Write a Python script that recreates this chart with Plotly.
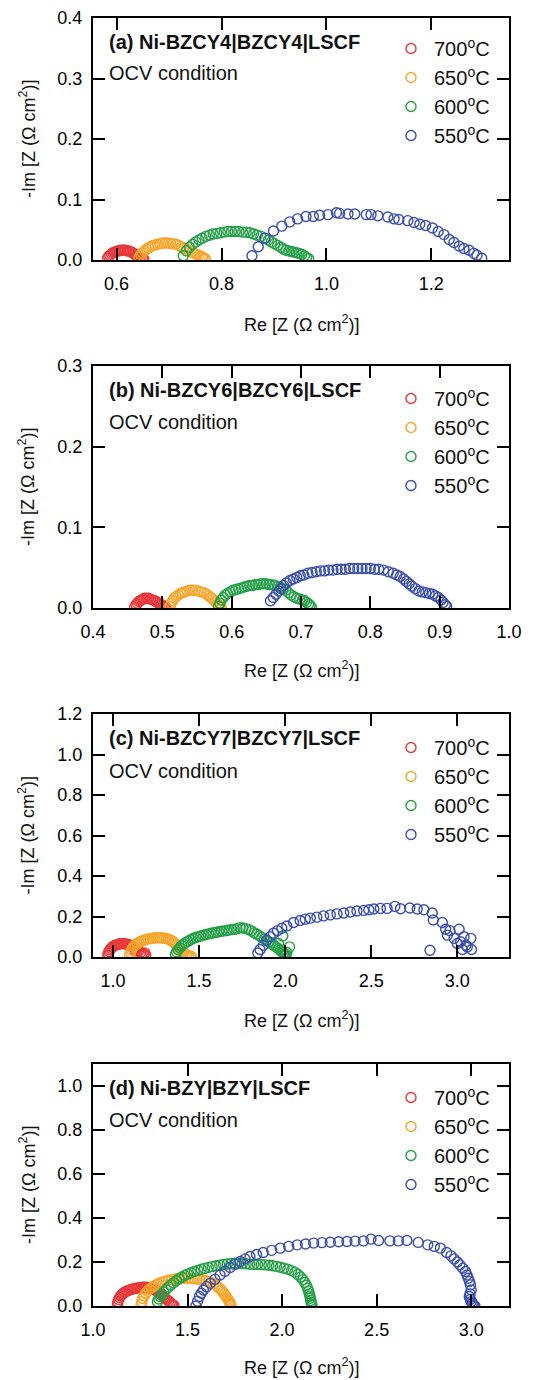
import plotly.graph_objects as go

# ---------------- data ----------------
temps = ["700", "650", "600", "550"]
colors = ["#e8383a", "#f8a52a", "#23a046", "#3a4fae"]
panel_titles = ["(a) Ni-BZCY4|BZCY4|LSCF", "(b) Ni-BZCY6|BZCY6|LSCF",
                "(c) Ni-BZCY7|BZCY7|LSCF", "(d) Ni-BZY|BZY|LSCF"]
cond_label = "OCV condition"

# panel (a)
a700_x = [0.583,0.585,0.587,0.590,0.593,0.596,0.599,0.602,0.605,0.608,
          0.611,0.614,0.617,0.620,0.623,0.626,0.629,0.632,0.635,0.638,
          0.641,0.645,0.649,0.652]
a700_y = [0.003,0.006,0.008,0.010,0.012,0.013,0.014,0.015,0.015,0.016,
          0.016,0.016,0.016,0.015,0.015,0.014,0.013,0.011,0.009,0.007,
          0.006,0.004,0.002,0.001]
a650_x = [0.643,0.646,0.649,0.653,0.657,0.661,0.665,0.669,0.673,0.678,
          0.683,0.688,0.693,0.698,0.703,0.708,0.713,0.718,0.723,0.728,
          0.733,0.738,0.743,0.748,0.753,0.757,0.761,0.764,0.767,0.769]
a650_y = [0.005,0.009,0.012,0.015,0.018,0.020,0.022,0.024,0.025,0.026,
          0.027,0.028,0.028,0.028,0.027,0.027,0.026,0.024,0.022,0.020,
          0.018,0.015,0.013,0.011,0.009,0.008,0.006,0.005,0.003,0.002]
a600_x = [0.727,0.733,0.739,0.745,0.751,0.757,0.763,0.770,0.777,0.784,
          0.791,0.798,0.805,0.812,0.819,0.826,0.833,0.840,0.847,0.854,
          0.861,0.868,0.875,0.882,0.889,0.895,0.901,0.907,0.913,0.918,
          0.923,0.928,0.933,0.938,0.943,0.948,0.953,0.958,0.962,0.966]
a600_y = [0.007,0.015,0.021,0.026,0.030,0.033,0.036,0.039,0.041,0.043,
          0.044,0.045,0.046,0.047,0.047,0.047,0.047,0.046,0.046,0.045,
          0.043,0.041,0.039,0.036,0.033,0.030,0.027,0.024,0.021,0.018,
          0.016,0.015,0.014,0.013,0.012,0.011,0.009,0.007,0.004,0.002]
a550_x = [0.858,0.870,0.883,0.899,0.915,0.930,0.945,0.961,0.975,0.987,
          1.003,1.019,1.025,1.041,1.054,1.076,1.085,1.098,1.117,1.129,
          1.138,1.155,1.167,1.178,1.189,1.202,1.213,1.224,1.234,1.243,
          1.253,1.262,1.272,1.281,1.287,1.296]
a550_y = [0.007,0.022,0.036,0.048,0.056,0.063,0.068,0.072,0.072,0.074,
          0.075,0.078,0.077,0.076,0.076,0.075,0.075,0.073,0.071,0.068,
          0.067,0.065,0.062,0.059,0.057,0.053,0.047,0.042,0.034,0.029,
          0.023,0.019,0.016,0.011,0.008,0.003]

# panel (b)
b700_x = [0.460,0.462,0.464,0.466,0.468,0.470,0.472,0.474,0.477,0.480,
          0.483,0.486,0.489,0.491,0.493,0.495,0.497,0.499,0.501,0.503,
          0.505]
b700_y = [0.001,0.004,0.006,0.008,0.009,0.010,0.011,0.012,0.012,0.012,
          0.011,0.010,0.009,0.008,0.007,0.006,0.005,0.004,0.003,0.002,
          0.001]
b650_x = [0.511,0.513,0.515,0.517,0.520,0.523,0.526,0.529,0.532,0.536,
          0.540,0.544,0.548,0.552,0.556,0.560,0.564,0.567,0.570,0.573,
          0.576,0.579,0.581,0.583,0.585]
b650_y = [0.002,0.006,0.009,0.012,0.014,0.016,0.018,0.019,0.020,0.021,
          0.022,0.022,0.022,0.021,0.020,0.019,0.017,0.015,0.013,0.011,
          0.008,0.006,0.004,0.003,0.001]
b600_x = [0.581,0.583,0.585,0.588,0.591,0.594,0.598,0.602,0.606,0.610,
          0.614,0.618,0.622,0.626,0.630,0.634,0.638,0.642,0.646,0.650,
          0.654,0.658,0.662,0.666,0.670,0.674,0.678,0.682,0.686,0.690,
          0.694,0.698,0.702,0.705,0.708,0.711,0.713,0.715]
b600_y = [0.002,0.006,0.010,0.013,0.016,0.018,0.020,0.022,0.023,0.024,
          0.025,0.026,0.027,0.028,0.028,0.029,0.029,0.030,0.030,0.030,
          0.029,0.029,0.028,0.027,0.026,0.024,0.022,0.019,0.016,0.014,
          0.012,0.011,0.010,0.009,0.007,0.005,0.003,0.001]
b550_x = [0.656,0.660,0.664,0.668,0.671,0.675,0.679,0.684,0.689,0.694,
          0.699,0.704,0.710,0.716,0.722,0.728,0.734,0.740,0.746,0.752,
          0.758,0.764,0.770,0.776,0.782,0.788,0.794,0.800,0.806,0.812,
          0.819,0.826,0.833,0.838,0.843,0.848,0.852,0.856,0.860,0.865,
          0.870,0.875,0.880,0.885,0.890,0.894,0.898,0.902,0.905,0.908,
          0.910]
b550_y = [0.009,0.013,0.017,0.021,0.024,0.028,0.031,0.034,0.036,0.038,
          0.040,0.041,0.043,0.044,0.045,0.046,0.046,0.047,0.047,0.048,
          0.048,0.048,0.049,0.049,0.049,0.049,0.049,0.049,0.048,0.048,
          0.047,0.045,0.043,0.041,0.039,0.036,0.033,0.030,0.027,0.024,
          0.021,0.020,0.019,0.018,0.017,0.015,0.013,0.010,0.007,0.004,
          0.002]

# panel (c)
c700_x = [0.970,0.973,0.977,0.982,0.988,0.995,1.002,1.010,1.018,1.026,
          1.034,1.042,1.050,1.058,1.066,1.074,1.082,1.090,1.098,1.106,
          1.113,1.120,1.127,1.150,1.160,1.170,1.180,1.190,1.165,1.185]
c700_y = [0.008,0.018,0.027,0.035,0.042,0.048,0.053,0.057,0.060,0.062,
          0.064,0.065,0.066,0.066,0.066,0.065,0.063,0.061,0.058,0.053,
          0.047,0.040,0.032,0.030,0.022,0.016,0.012,0.008,0.005,0.020]
c650_x = [1.097,1.102,1.108,1.115,1.122,1.130,1.140,1.150,1.160,1.170,
          1.180,1.192,1.204,1.216,1.228,1.240,1.252,1.264,1.276,1.288,
          1.300,1.311,1.322,1.333,1.343,1.352,1.360,1.368,1.376,1.384,
          1.392,1.400,1.410,1.420,1.430,1.440,1.450,1.456]
c650_y = [0.008,0.022,0.034,0.045,0.053,0.060,0.067,0.072,0.076,0.080,
          0.083,0.086,0.089,0.091,0.093,0.094,0.095,0.095,0.095,0.094,
          0.093,0.091,0.088,0.084,0.079,0.073,0.066,0.058,0.050,0.042,
          0.035,0.028,0.021,0.015,0.010,0.006,0.003,0.001]
c600_x = [1.363,1.370,1.378,1.388,1.398,1.410,1.422,1.436,1.450,1.465,
          1.480,1.495,1.510,1.525,1.540,1.555,1.570,1.585,1.600,1.615,
          1.630,1.645,1.660,1.675,1.690,1.705,1.720,1.738,1.755,1.772,
          1.790,1.805,1.820,1.835,1.850,1.864,1.878,1.891,1.904,1.916,
          1.928,1.940,1.951,1.962,1.972,1.981,1.990,1.998,2.005,1.986,
          2.025,1.961,2.010,1.995]
c600_y = [0.013,0.025,0.036,0.046,0.055,0.063,0.071,0.078,0.085,0.091,
          0.096,0.100,0.104,0.108,0.111,0.114,0.117,0.120,0.122,0.125,
          0.127,0.129,0.131,0.133,0.135,0.137,0.139,0.145,0.143,0.140,
          0.135,0.128,0.120,0.113,0.105,0.097,0.090,0.082,0.075,0.068,
          0.061,0.054,0.047,0.040,0.033,0.027,0.021,0.016,0.011,0.104,
          0.050,0.067,0.022,0.005]
c550_x = [1.841,1.854,1.874,1.893,1.913,1.932,1.955,1.981,2.010,2.049,
          2.087,2.117,2.146,2.184,2.223,2.262,2.301,2.340,2.379,2.417,
          2.456,2.486,2.515,2.553,2.592,2.637,2.670,2.724,2.767,2.806,
          2.854,2.860,2.913,2.932,2.942,2.957,3.010,2.981,3.019,3.049,
          3.078,3.082,2.841,3.029,3.058,3.000,3.039]
c550_y = [0.020,0.037,0.058,0.083,0.100,0.117,0.130,0.142,0.153,0.170,
          0.180,0.187,0.192,0.197,0.203,0.208,0.213,0.217,0.222,0.227,
          0.230,0.233,0.237,0.240,0.240,0.250,0.238,0.242,0.237,0.233,
          0.217,0.183,0.170,0.137,0.108,0.130,0.137,0.092,0.075,0.058,
          0.092,0.037,0.033,0.037,0.050,0.067,0.100]

# panel (d)
d700_x = [1.129,1.132,1.136,1.141,1.147,1.153,1.160,1.167,1.175,1.183,
          1.191,1.200,1.209,1.218,1.227,1.236,1.245,1.254,1.263,1.272,
          1.281,1.290,1.299,1.308,1.317,1.326,1.335,1.344,1.352,1.360,
          1.368,1.376,1.384,1.392,1.400,1.408,1.415,1.422,1.428]
d700_y = [0.009,0.020,0.030,0.039,0.046,0.052,0.058,0.063,0.066,0.069,
          0.072,0.075,0.077,0.079,0.081,0.082,0.083,0.084,0.085,0.085,
          0.085,0.084,0.083,0.081,0.078,0.074,0.069,0.064,0.058,0.052,
          0.046,0.040,0.034,0.028,0.022,0.016,0.010,0.005,0.002]
d650_x = [1.254,1.258,1.263,1.270,1.278,1.287,1.297,1.308,1.320,1.332,
          1.345,1.358,1.372,1.386,1.400,1.415,1.430,1.445,1.460,1.475,
          1.490,1.505,1.520,1.535,1.550,1.565,1.580,1.595,1.610,1.624,
          1.637,1.649,1.660,1.670,1.679,1.687,1.694,1.701,1.707,1.713,
          1.718,1.722,1.725,1.728,1.730]
d650_y = [0.005,0.020,0.034,0.046,0.057,0.067,0.075,0.083,0.090,0.096,
          0.101,0.106,0.110,0.114,0.117,0.120,0.122,0.124,0.125,0.126,
          0.126,0.126,0.125,0.124,0.123,0.121,0.119,0.116,0.112,0.107,
          0.101,0.094,0.087,0.079,0.071,0.063,0.055,0.047,0.039,0.031,
          0.024,0.018,0.012,0.007,0.003]
d600_x = [1.341,1.348,1.356,1.364,1.374,1.386,1.399,1.412,1.425,1.440,
          1.455,1.470,1.485,1.500,1.518,1.536,1.554,1.572,1.590,1.610,
          1.630,1.650,1.670,1.690,1.710,1.730,1.750,1.770,1.790,1.810,
          1.830,1.850,1.870,1.890,1.910,1.930,1.950,1.970,1.990,2.010,
          2.030,2.050,2.068,2.084,2.098,2.110,2.120,2.128,2.135,2.140,
          2.144,2.147,2.150,2.152,2.154,2.156,2.158]
d600_y = [0.020,0.032,0.042,0.052,0.063,0.075,0.086,0.096,0.105,0.115,
          0.124,0.132,0.139,0.145,0.151,0.157,0.162,0.167,0.171,0.175,
          0.179,0.183,0.186,0.189,0.191,0.193,0.194,0.194,0.193,0.192,
          0.190,0.190,0.189,0.188,0.187,0.185,0.183,0.180,0.176,0.172,
          0.167,0.161,0.153,0.143,0.132,0.120,0.107,0.094,0.080,0.067,
          0.055,0.045,0.035,0.025,0.016,0.008,0.002]
d550_x = [1.544,1.553,1.563,1.573,1.584,1.601,1.620,1.645,1.672,1.698,
          1.725,1.751,1.778,1.804,1.830,1.865,1.900,1.945,1.990,2.035,
          2.080,2.124,2.167,2.211,2.255,2.299,2.343,2.386,2.430,2.470,
          2.510,2.570,2.615,2.660,2.720,2.770,2.805,2.837,2.870,2.893,
          2.910,2.927,2.940,2.956,2.970,2.978,2.984,2.991,2.996,3.000,
          2.994,2.990,2.996,3.000,3.006,3.012,3.020]
d550_y = [0.000,0.022,0.043,0.058,0.073,0.088,0.103,0.122,0.141,0.158,
          0.175,0.189,0.202,0.214,0.225,0.234,0.243,0.253,0.263,0.271,
          0.278,0.282,0.286,0.288,0.290,0.292,0.293,0.295,0.296,0.304,
          0.298,0.296,0.296,0.298,0.289,0.278,0.271,0.263,0.243,0.228,
          0.214,0.200,0.187,0.172,0.157,0.141,0.126,0.111,0.096,0.073,
          0.055,0.043,0.030,0.020,0.012,0.006,0.000]

panels = [
    [(a700_x, a700_y), (a650_x, a650_y), (a600_x, a600_y), (a550_x, a550_y)],
    [(b700_x, b700_y), (b650_x, b650_y), (b600_x, b600_y), (b550_x, b550_y)],
    [(c700_x, c700_y), (c650_x, c650_y), (c600_x, c600_y), (c550_x, c550_y)],
    [(d700_x, d700_y), (d650_x, d650_y), (d600_x, d600_y), (d550_x, d550_y)],
]

x_ranges = [[0.555, 1.348], [0.4, 1.0], [0.884, 3.30], [1.0, 3.20]]
x_dticks = [0.2, 0.1, 0.5, 0.5]
y_ranges = [[0, 0.4], [0, 0.3], [0, 1.2], [0, 1.1]]
y_dticks = [0.1, 0.1, 0.2, 0.2]

# ---------------- layout geometry (pixels) ----------------
W, H = 541, 1380
FONT = "Liberation Sans, Arial, Helvetica, sans-serif"
frame_left, frame_right = 93, 509
frame_tops = [18, 366, 714, 1064]
frame_bottoms = [260, 608, 957, 1306]
xtitle_y = [323, 670, 1020, 1366]
title_y = [42, 390, 738, 1088]
ocv_y = [73, 422, 771, 1120]
legend_top = [36, 386, 735, 1085]


def py(p):
    return 1 - p / H


def px(p):
    return p / W


fig = go.Figure()
annotations = []
layout_axes = {}

for i in range(4):
    xa = "x" if i == 0 else f"x{i+1}"
    ya = "y" if i == 0 else f"y{i+1}"
    leg = "legend" if i == 0 else f"legend{i+1}"
    for j, (xs, ys) in enumerate(panels[i]):
        fig.add_trace(go.Scatter(
            x=xs, y=ys, mode="markers", xaxis=xa, yaxis=ya,
            name=f"{temps[j]}<sup>o</sup>C", legend=leg,
            legendgroup=f"p{i}t{j}",
            marker=dict(symbol="circle-open", size=10, color=colors[j],
                        line=dict(width=1.4, color=colors[j])),
            showlegend=True,
        ))
    axcommon = dict(showline=True, linecolor="black", linewidth=2,
                    mirror="ticks", ticks="inside", ticklen=12, tickwidth=2,
                    tickcolor="black", showgrid=False, zeroline=False,
                    automargin=False,
                    tickfont=dict(family=FONT, size=18, color="black"),
                    tickformat=".1f")
    xkey = "xaxis" if i == 0 else f"xaxis{i+1}"
    ykey = "yaxis" if i == 0 else f"yaxis{i+1}"
    layout_axes[xkey] = dict(axcommon, domain=[px(frame_left), px(frame_right)],
                             range=x_ranges[i], dtick=x_dticks[i], tick0=0,
                             anchor=ya, ticklabelstandoff=6)
    layout_axes[ykey] = dict(axcommon, domain=[py(frame_bottoms[i]), py(frame_tops[i])],
                             range=y_ranges[i], dtick=y_dticks[i], tick0=0,
                             anchor=xa, ticklabelstandoff=5)
    annotations.append(dict(text=panel_titles[i], x=px(107), y=py(title_y[i]),
                            xref="paper", yref="paper", xanchor="left", yanchor="middle",
                            showarrow=False, font=dict(family=FONT, size=20, color="#111111",
                                                       weight="bold")))
    annotations.append(dict(text=cond_label, x=px(107), y=py(ocv_y[i]),
                            xref="paper", yref="paper", xanchor="left", yanchor="middle",
                            showarrow=False, font=dict(family=FONT, size=20, color="#111111")))
    annotations.append(dict(text="Re [Z (\u03a9 cm<sup>2</sup>)]", x=px(301), y=py(xtitle_y[i]),
                            xref="paper", yref="paper", xanchor="center", yanchor="middle",
                            showarrow=False, font=dict(family=FONT, size=18, color="#111111")))
    annotations.append(dict(text="-Im [Z (\u03a9 cm<sup>2</sup>)]", x=px(27),
                            y=py((frame_tops[i] + frame_bottoms[i]) / 2),
                            xref="paper", yref="paper", xanchor="center", yanchor="middle",
                            textangle=-90, showarrow=False,
                            font=dict(family=FONT, size=18, color="#111111")))
    layout_axes[leg] = dict(x=px(388), y=py(legend_top[i] - 7), xanchor="left", yanchor="top",
                            bgcolor="rgba(0,0,0,0)", tracegroupgap=0, itemwidth=36,
                            font=dict(family=FONT, size=20, color="#111111"))

fig.update_layout(
    width=W, height=H, margin=dict(l=0, r=0, t=0, b=0),
    paper_bgcolor="white", plot_bgcolor="white",
    annotations=annotations, showlegend=True,
    **layout_axes,
)

fig.write_html("out.html", config={"displayModeBar": False},
               post_script="document.body.style.margin='0';")
